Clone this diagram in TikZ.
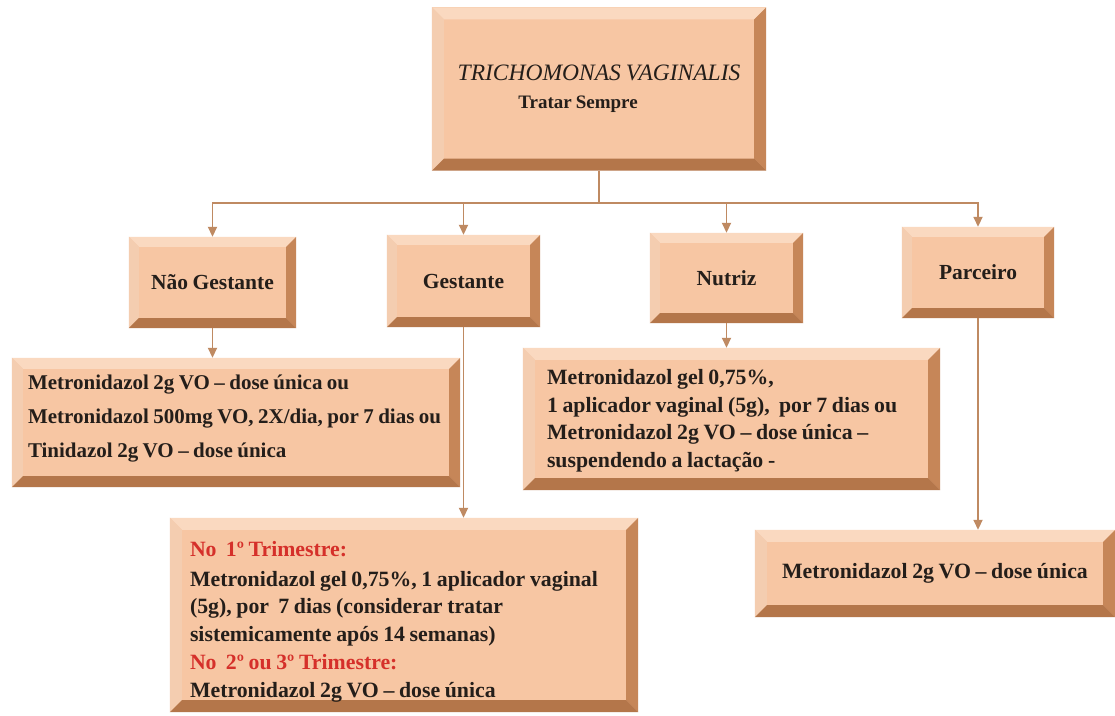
\documentclass[tikz,border=0pt]{standalone}
\usepackage{fontspec}
\setmainfont{Liberation Serif}[WordSpace=0.85]
\usetikzlibrary{arrows.meta}

\definecolor{face}{HTML}{F7C6A3}
\definecolor{bevtop}{HTML}{FAD9C0}
\definecolor{bevleft}{HTML}{F4CDB0}
\definecolor{bevright}{HTML}{C68658}
\definecolor{bevbot}{HTML}{B4764A}
\definecolor{linkc}{HTML}{BF8A62}
\definecolor{ink}{HTML}{241E1A}
\definecolor{trired}{HTML}{D5302A}

% bevelled frame drawn over the border band of a named node
\newcommand{\bevelframe}[2]{%
  \fill[bevtop] (#1.north west) -- (#1.north east) -- ([shift={(-#2,-#2)}]#1.north east) -- ([shift={(#2,-#2)}]#1.north west) -- cycle;
  \fill[bevleft] (#1.north west) -- ([shift={(#2,-#2)}]#1.north west) -- ([shift={(#2,#2)}]#1.south west) -- (#1.south west) -- cycle;
  \fill[bevright] (#1.north east) -- (#1.south east) -- ([shift={(-#2,#2)}]#1.south east) -- ([shift={(-#2,-#2)}]#1.north east) -- cycle;
  \fill[bevbot] (#1.south west) -- (#1.south east) -- ([shift={(-#2,#2)}]#1.south east) -- ([shift={(#2,#2)}]#1.south west) -- cycle;
}

\tikzset{
  card/.style={fill=face, inner sep=0pt, text=ink},
  label/.style={card, font=\fontsize{21.5}{26}\selectfont\bfseries},
  body/.style={inner sep=0pt, text=ink, align=left, anchor=west},
  link/.style={draw=linkc, line width=1.8pt},
  flow/.style={link, -{Triangle[length=10pt,width=9pt]}},
}

\begin{document}
\begin{tikzpicture}[x=1pt,y=1pt]
\useasboundingbox[fill=white] (0,0) rectangle (1115,715);

% root
\node[card, minimum width=334pt, minimum height=163pt, align=center,
      font=\fontsize{23.5}{28}\selectfont] (root) at (599,626)
  {\itshape TRICHOMONAS VAGINALIS\\
   {\fontsize{19}{28}\selectfont\bfseries Tratar Sempre}\hspace*{42pt}};

% groups
\node[label, minimum width=167pt, minimum height=91pt] (nog) at (212.5,432.5) {Não Gestante};
\node[label, minimum width=153pt, minimum height=92pt] (ges) at (463.5,434) {Gestante};
\node[label, minimum width=153pt, minimum height=90pt] (nut) at (726.5,437) {Nutriz};
\node[label, minimum width=152pt, minimum height=91pt] (par) at (978,442.5) {Parceiro};

% treatment boxes
\node[card, minimum width=448pt, minimum height=129pt] (tnog) at (236,292.5) {};
\node[card, minimum width=417pt, minimum height=142pt] (tnut) at (731.5,296) {};
\node[card, minimum width=468pt, minimum height=194pt] (tges) at (404,100) {};
\node[card, minimum width=360pt, minimum height=87pt,
      font=\fontsize{21.8}{26}\selectfont\bfseries] (tpar) at (935,141.5)
  {Metronidazol 2g VO – dose única};

\bevelframe{root}{12}
\bevelframe{nog}{10}
\bevelframe{ges}{10}
\bevelframe{nut}{10}
\bevelframe{par}{10}
\bevelframe{tnog}{11}
\bevelframe{tnut}{12}
\bevelframe{tges}{12}
\bevelframe{tpar}{12}

% treatment texts
\node[body, font=\fontsize{21}{34}\selectfont\bfseries] (xnog) at ([shift={(16,4)}]tnog.west)
  {Metronidazol 2g VO – dose única ou\\
   Metronidazol 500mg VO, 2X/dia, por 7 dias ou\\
   Tinidazol 2g VO – dose única};

\node[body, font=\fontsize{21.8}{27.5}\selectfont\bfseries] (xnut) at ([shift={(24,-2)}]tnut.west)
  {Metronidazol gel 0,75\%,\\
   1 aplicador vaginal (5g),\ \ por 7 dias ou\\
   Metronidazol 2g VO – dose única –\\
   suspendendo a lactação -};

\node[body, font=\fontsize{21.8}{27.5}\selectfont\bfseries] (xges) at ([shift={(20,-7)}]tges.west)
  {\textcolor{trired}{No\ \ 1º Trimestre:}\\[2pt]
   Metronidazol gel 0,75\%, 1 aplicador vaginal\\
   (5g), por\ \ 7 dias (considerar tratar\\
   sistemicamente após 14 semanas)\\[1pt]
   \textcolor{trired}{No\ \ 2º ou 3º Trimestre:}\\
   Metronidazol 2g VO – dose única};

% connectors
\coordinate (bus) at (599,512);
\draw[link] (root.south) -- (bus);
\draw[flow] (bus) -| (nog.north);
\draw[flow] (bus) -| (ges.north);
\draw[flow] (bus) -| (nut.north);
\draw[flow] (bus) -| (par.north);
\draw[flow] (nog.south) -- (nog.south |- tnog.north);
\draw[flow] (ges.south) -- (ges.south |- tges.north);
\draw[flow] (nut.south) -- (nut.south |- tnut.north);
\draw[flow] (par.south) -- (par.south |- tpar.north);
\end{tikzpicture}
\end{document}
